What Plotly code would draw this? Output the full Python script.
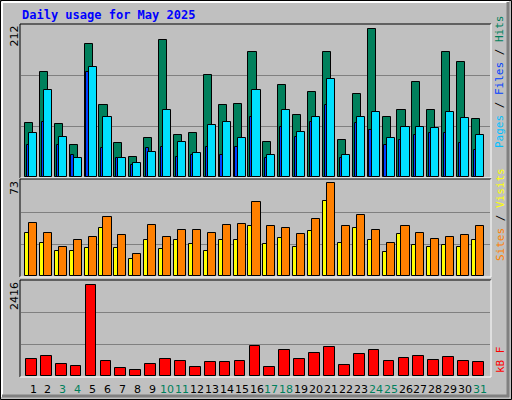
import plotly.graph_objects as go

days = list(range(1, 32))
day_labels = [str(d) for d in days]
weekend_days = [3, 4, 10, 11, 17, 18, 24, 25, 31]
hits = [76,146,74,45,185,100,47,28,55,191,58,61,142,100,102,174,49,129,87,118,175,52,116,206,83,94,133,94,175,161,81]
files = [62,122,56,27,153,84,27,19,35,93,49,34,73,77,54,122,30,94,63,83,136,31,84,91,54,70,70,68,90,82,58]
pages = [45,77,45,30,146,40,26,17,40,42,28,31,42,31,42,83,27,70,56,77,100,27,75,66,45,52,58,61,62,48,37]
visits = [42,34,23,28,31,46,32,17,40,31,36,36,34,40,41,58,39,38,33,45,73,39,48,36,26,39,34,29,31,32,39]
sites = [34,26,20,20,22,38,22,13,28,21,28,25,20,28,28,39,25,30,23,35,59,26,38,28,19,33,24,23,24,23,28]
kbytes = [459,538,326,273,2416,406,220,168,326,459,406,247,379,379,406,803,247,697,459,617,776,300,591,697,406,485,538,432,512,406,379]
title = "Daily usage for May 2025"

W, H = 512, 400
def px(x): return x / W
def py(y): return 1 - y / H

x0, x1 = 21, 490
def d2px(d): return 33 + (d - 1) * 14.9
xr = [1 + (x0 - 33) / 14.9, 1 + (x1 - 33) / 14.9]

panels = [(25, 177, 212), (180, 276, 75.4), (281, 376, 2522)]

fig = go.Figure()
line = dict(color="black", width=1)
def bar(y, color, off, w, ax):
    fig.add_trace(go.Bar(x=days, y=y, offset=off, width=w, marker=dict(color=color, line=line),
                         xaxis="x" + ax, yaxis="y" + ax, showlegend=False, hoverinfo="skip"))

bar(hits, "#00805C", -0.54, 0.54, "")
bar(pages, "#0040FF", -0.42, 0.2, "")
bar(files, "#00E0FF", -0.27, 0.54, "")
bar(sites, "#FFFF00", -0.54, 0.3, "2")
bar(visits, "#FF8000", -0.27, 0.54, "2")
bar(kbytes, "#FF0000", -0.47, 0.72, "3")

lay = dict(width=W, height=H, margin=dict(l=0, r=0, t=0, b=0), paper_bgcolor="#C0C0C0",
           plot_bgcolor="#C0C0C0", barmode="overlay", bargap=0)
shapes, annos = [], []
for i, (top, bot, mx) in enumerate(panels):
    s = "" if i == 0 else str(i + 1)
    lay["xaxis" + s] = dict(domain=[px(x0), px(x1)], range=xr, visible=False, anchor="y" + s)
    lay["yaxis" + s] = dict(domain=[py(bot), py(top)], range=[0, mx], dtick=mx / 3, showticklabels=False,
                            gridcolor="#808080", gridwidth=1, zeroline=False, anchor="x" + s, fixedrange=True)
    shapes += [
        dict(type="line", xref="paper", yref="paper", x0=px(x0 - 1), x1=px(x1 + 1), y0=py(top - 1), y1=py(top - 1), line=dict(color="black", width=1)),
        dict(type="line", xref="paper", yref="paper", x0=px(x0 - 1), x1=px(x0 - 1), y0=py(top - 1), y1=py(bot + 1), line=dict(color="black", width=1)),
        dict(type="line", xref="paper", yref="paper", x0=px(x0 - 1), x1=px(x1 + 1), y0=py(bot + 1), y1=py(bot + 1), line=dict(color="white", width=1)),
        dict(type="line", xref="paper", yref="paper", x0=px(x1 + 1), x1=px(x1 + 1), y0=py(top - 1), y1=py(bot + 1), line=dict(color="white", width=1)),
    ]
    annos.append(dict(text=str([212, 73, 2416][i]), xref="paper", yref="paper",
                      x=px(14), y=py(top - 1), xanchor="center", yanchor="top", textangle=-90, showarrow=False,
                      font=dict(family="DejaVu Sans", size=11, color="black")))

shapes += [
    dict(type="rect", xref="paper", yref="paper", x0=px(0.5), x1=px(511.5), y0=py(0.5), y1=py(399.5), line=dict(color="black", width=1)),
    dict(type="line", xref="paper", yref="paper", x0=px(2), x1=px(2), y0=py(2), y1=py(397), line=dict(color="white", width=2)),
    dict(type="line", xref="paper", yref="paper", x0=px(2), x1=px(509), y0=py(2), y1=py(2), line=dict(color="white", width=2)),
    dict(type="line", xref="paper", yref="paper", x0=px(508), x1=px(508), y0=py(2), y1=py(397), line=dict(color="#808080", width=3)),
    dict(type="line", xref="paper", yref="paper", x0=px(2), x1=px(509), y0=py(396), y1=py(396), line=dict(color="#808080", width=3)),
]

annos.append(dict(text="<b>" + title + "</b>", xref="paper", yref="paper", x=px(20), y=py(15), xanchor="left",
                  yanchor="middle", showarrow=False, font=dict(family="DejaVu Sans Mono", size=12, color="#0000FF")))
for d, lab in zip(days, day_labels):
    annos.append(dict(text=lab, xref="paper", yref="paper", x=px(d2px(d)), y=py(389), xanchor="center", yanchor="middle",
                      showarrow=False, font=dict(family="DejaVu Sans", size=11,
                                                 color="#00805C" if d in weekend_days else "black")))
def rlab(parts, ycen):
    t = '<span style="color:black"> / </span>'.join('<span style="color:%s">%s</span>' % (c, w) for w, c in parts)
    annos.append(dict(text=t, xref="paper", yref="paper", x=px(500), y=py(ycen), xanchor="center", yanchor="middle",
                      textangle=-90, showarrow=False, font=dict(family="DejaVu Sans Mono", size=11)))
rlab([("Pages", "#00C0FF"), ("Files", "#0040FF"), ("Hits", "#00805C")], 82)
rlab([("Sites", "#FF8000"), ("Visits", "#FFFF00")], 215)
rlab([("kB F", "#FF0000")], 360)

lay["shapes"] = shapes
lay["annotations"] = annos
fig.update_layout(**lay)
fig.write_html("out.html", config={"displayModeBar": False})
with open("out.html", encoding="utf-8") as f:
    html = f.read()
html = html.replace("<body>", '<body style="margin:0;overflow:hidden">', 1)
with open("out.html", "w", encoding="utf-8") as f:
    f.write(html)
